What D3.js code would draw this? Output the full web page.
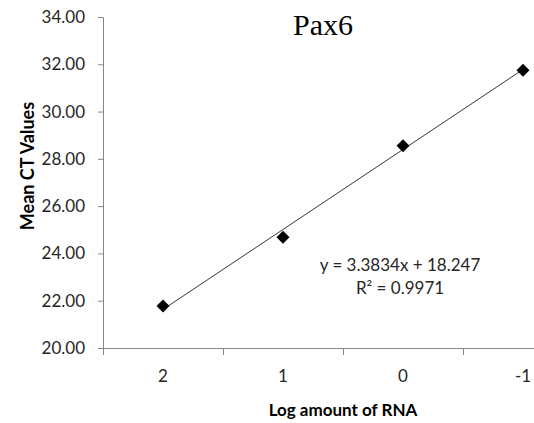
<!DOCTYPE html>
<html>
<head>
<meta charset="utf-8">
<script src="https://cdn.jsdelivr.net/npm/d3@7"></script>
<style>
  body { margin: 0; background: #fff; overflow: hidden; }
  svg { display: block; }
</style>
</head>
<body>
<script>
// Dati del grafico
const logAmounts = ["2", "1", "0", "-1"];
const meanCt = [21.78, 24.68, 28.55, 31.75];
const yTicks = [20, 22, 24, 26, 28, 30, 32, 34];
const trendSlope = 3.3834;
const trendIntercept = 18.247;
const equationLines = ["y = 3.3834x + 18.247", "R² = 0.9971"];

const width = 534,
  height = 423;
const margin = { top: 17, left: 103, bottom: 75 };
const plotRight = 583; // area del grafico tagliata a destra

const svg = d3
  .select("body")
  .append("svg")
  .attr("width", width)
  .attr("height", height);

const x = d3
  .scaleBand()
  .domain(logAmounts)
  .range([margin.left, plotRight])
  .padding(0);

const y = d3
  .scaleLinear()
  .domain([20, 34])
  .range([height - margin.bottom, margin.top]);

const axisColor = "#868686";
const labelFont = "Lato, 'Open Sans', sans-serif";

// Asse Y
const yAxis = svg
  .append("g")
  .attr("transform", `translate(${margin.left},0)`)
  .call(d3.axisLeft(y).tickValues(yTicks).tickSize(5).tickPadding(13).tickFormat(d3.format(".2f")));
yAxis.select(".domain").attr("stroke", axisColor);
yAxis.selectAll(".tick line").attr("stroke", axisColor);
yAxis
  .selectAll(".tick text")
  .attr("fill", "#262626")
  .style("font-family", labelFont)
  .style("font-size", "17px");

// Asse X
const xAxis = svg
  .append("g")
  .attr("transform", `translate(0,${y(20)})`)
  .call(d3.axisBottom(x).tickSize(0).tickPadding(22));
xAxis.select(".domain").attr("stroke", axisColor);
xAxis
  .selectAll(".tick text")
  .attr("fill", "#262626")
  .style("font-family", labelFont)
  .style("font-size", "17px");

// tacche tra le categorie
const boundaries = logAmounts.map((d) => x(d)).concat([x(logAmounts[logAmounts.length - 1]) + x.bandwidth()]);
xAxis
  .selectAll(".boundary")
  .data(boundaries)
  .enter()
  .append("line")
  .attr("class", "boundary")
  .attr("x1", (d) => d + 0.5)
  .attr("x2", (d) => d + 0.5)
  .attr("y1", 0)
  .attr("y2", 7)
  .attr("stroke", axisColor);

// Linea di tendenza (x = 1..n)
const cx = (i) => x(logAmounts[i]) + x.bandwidth() / 2;
const trend = [0, logAmounts.length - 1].map((i) => ({
  px: cx(i),
  v: trendIntercept + trendSlope * (i + 1)
}));
svg
  .append("line")
  .attr("x1", trend[0].px)
  .attr("y1", y(trend[0].v))
  .attr("x2", trend[1].px)
  .attr("y2", y(trend[1].v))
  .attr("stroke", "#3a3a3a")
  .attr("stroke-width", 1);

// Punti (rombi)
svg
  .selectAll(".point")
  .data(meanCt)
  .enter()
  .append("path")
  .attr("class", "point")
  .attr("d", d3.symbol().type(d3.symbolSquare).size(84))
  .attr("transform", (d, i) => `translate(${cx(i)},${y(d)}) rotate(45)`)
  .attr("fill", "#000");

// Titolo
svg
  .append("text")
  .attr("x", 323)
  .attr("y", 35)
  .attr("text-anchor", "middle")
  .style("font-family", "'Liberation Serif', 'Times New Roman', serif")
  .style("font-size", "30px")
  .text("Pax6");

// Equazione
svg
  .selectAll(".eq")
  .data(equationLines)
  .enter()
  .append("text")
  .attr("class", "eq")
  .attr("x", 400)
  .attr("y", (d, i) => 271 + i * 23)
  .attr("text-anchor", "middle")
  .attr("fill", "#262626")
  .style("font-family", labelFont)
  .style("font-size", "17px")
  .text((d) => d);

// Titoli degli assi
svg
  .append("text")
  .attr("transform", `translate(34,166) rotate(-90)`)
  .attr("text-anchor", "middle")
  .style("font-family", labelFont)
  .style("font-weight", "bold")
  .style("font-size", "18px")
  .attr("fill", "#000")
  .text("Mean CT Values");

svg
  .append("text")
  .attr("x", 343)
  .attr("y", 416)
  .attr("text-anchor", "middle")
  .style("font-family", labelFont)
  .style("font-weight", "bold")
  .style("font-size", "17px")
  .attr("fill", "#000")
  .text("Log amount of RNA");
</script>
</body>
</html>
